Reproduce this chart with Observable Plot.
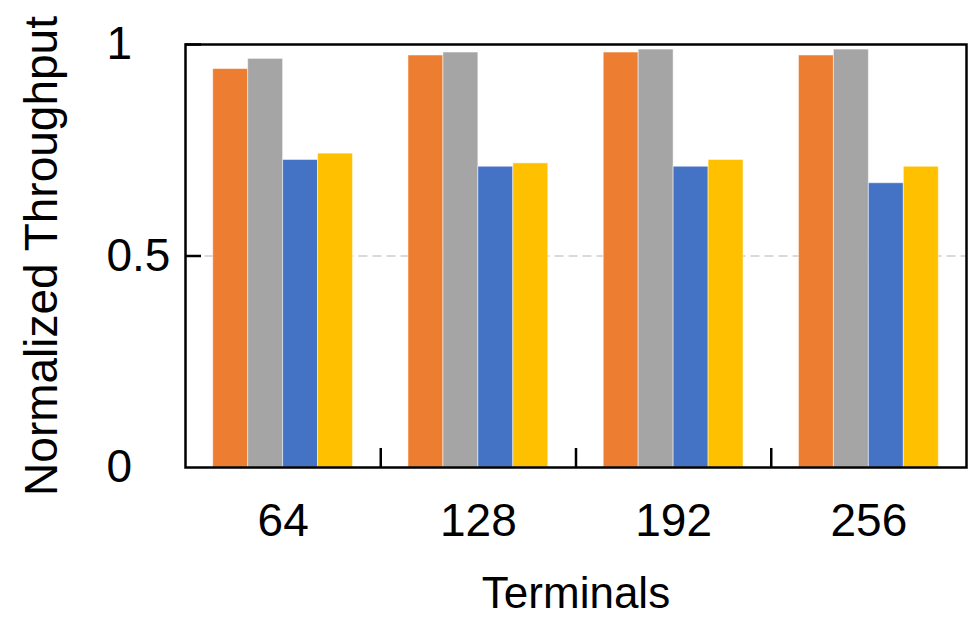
<!DOCTYPE html>
<html>
<head>
<meta charset="utf-8">
<script src="https://cdn.jsdelivr.net/npm/d3@7"></script>
<script src="https://cdn.jsdelivr.net/npm/@observablehq/plot@0.6"></script>
<style>
  html, body { margin: 0; padding: 0; background: #fff; }
  #chart svg { display: block; }
</style>
</head>
<body>
<div id="chart"></div>
<script>
// ---- data ----
const terminals = ["64", "128", "192", "256"];
const seriesNames = ["Series 1", "Series 2", "Series 3", "Series 4"];
const seriesColors = ["#ED7D31", "#A5A5A5", "#4472C4", "#FFC000"];
const series1 = [0.942, 0.974, 0.981, 0.974];
const series2 = [0.966, 0.981, 0.988, 0.988];
const series3 = [0.727, 0.711, 0.711, 0.672];
const series4 = [0.742, 0.719, 0.727, 0.711];
const yTicks = [0, 0.5, 1];
const yTickLabels = ["0", "0.5", "1"];
const xLabel = "Terminals";
const yLabel = "Normalized Throughput";

// ---- build a tidy table ----
const allSeries = [series1, series2, series3, series4];
const barWidth = 0.179;                   // fraction of one group
const groupPad = (1 - 4 * barWidth) / 2;  // space at each side of a group
const rows = [];
terminals.forEach((t, i) => {
  allSeries.forEach((vals, k) => {
    rows.push({
      terminal: t,
      series: seriesNames[k],
      value: vals[i],
      x1: i + groupPad + k * barWidth,
      x2: i + groupPad + (k + 1) * barWidth
    });
  });
});
const groupCenters = terminals.map((t, i) => i + 0.5);
const groupBounds = terminals.slice(1).map((t, i) => i + 1);

const chart = Plot.plot({
  width: 976,
  height: 618,
  marginLeft: 185,
  marginRight: 10,
  marginTop: 44,
  marginBottom: 151,
  style: { fontFamily: "'Liberation Sans', Arial, sans-serif", color: "#000", background: "#fff" },
  x: { type: "linear", domain: [0, terminals.length] },
  y: { domain: [0, 1] },
  color: { domain: seriesNames, range: seriesColors },
  marks: [
    Plot.ruleY([0.5], { x1: 0.1, x2: terminals.length, stroke: "#d9d9d9", strokeWidth: 2, strokeDasharray: "9,5" }),
    Plot.rectY(rows, { x1: "x1", x2: "x2", y: "value", fill: "series", stroke: "#fff", strokeOpacity: 0.5, strokeWidth: 1 }),
    Plot.ruleY(yTicks.slice(1), { x1: 0, x2: 0.082, stroke: "#000", strokeWidth: 2.5 }),
    Plot.ruleX(groupBounds, { y1: 0, y2: 0.045, stroke: "#000", strokeWidth: 2.5 }),
    Plot.frame({ stroke: "#000", strokeWidth: 2.5 }),
    Plot.axisY({
      ticks: yTicks,
      tickFormat: (d) => yTickLabels[yTicks.indexOf(d)],
      tickSize: 0,
      tickPadding: 79,
      textAnchor: "start",
      fontSize: 46,
      label: yLabel,
      labelAnchor: "center",
      labelOffset: 161,
      labelArrow: "none"
    }),
    Plot.axisX({
      ticks: groupCenters,
      tickFormat: (d) => terminals[Math.floor(d)],
      tickSize: 0,
      tickPadding: 36,
      fontSize: 46,
      label: null
    }),
    Plot.axisX({
      ticks: [],
      fontSize: 44,
      label: xLabel,
      labelAnchor: "center",
      labelOffset: 140,
      labelArrow: "none"
    })
  ]
});
document.getElementById("chart").appendChild(chart);
</script>
</body>
</html>
